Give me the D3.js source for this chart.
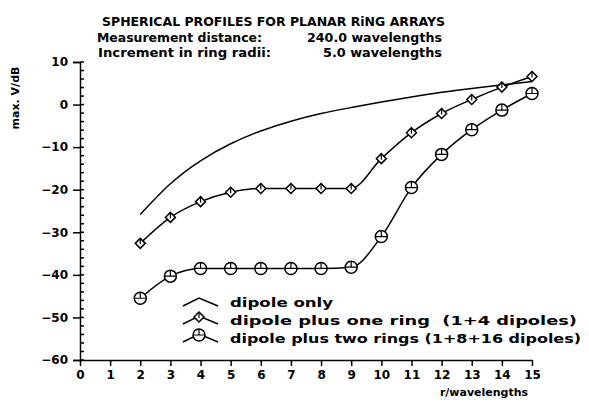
<!DOCTYPE html>
<html>
<head>
<meta charset="utf-8">
<script src="https://cdn.jsdelivr.net/npm/d3@7"></script>
<style>
  body { margin: 0; background: #fff; }
  text { font-family: "DejaVu Sans", sans-serif; font-weight: bold; fill: #000; }
</style>
</head>
<body>
<div id="chart"></div>
<script>
// values
var radii = [2, 3, 4, 5, 6, 7, 8, 9, 10, 11, 12, 13, 14, 15];
var dipoleOnly = [-25.8, -18.6, -13.2, -9.2, -6.2, -3.9, -2.1, -0.7, 0.6, 1.8, 2.9, 3.8, 4.6, 5.4];
var oneRing = [-32.6, -26.5, -22.8, -20.6, -19.7, -19.7, -19.7, -19.7, -12.7, -6.6, -2.1, 1.2, 4.1, 6.6];
var twoRings = [-45.5, -40.3, -38.5, -38.5, -38.5, -38.5, -38.5, -38.2, -31.0, -19.5, -11.7, -5.9, -1.3, 2.6];

var xTicks = d3.range(0, 16);
var yTicks = [10, 0, -10, -20, -30, -40, -50, -60];
var yMinor = d3.range(-60, 11, 2);

var titleLines = ["SPHERICAL PROFILES FOR PLANAR RiNG ARRAYS"];
var infoLabels = ["Measurement distance:", "Increment in ring radii:"];
var infoValues = ["240.0 wavelengths", "5.0 wavelengths"];
var legendLabels = ["dipole only", "dipole plus one ring  (1+4 dipoles)", "dipole plus two rings (1+8+16 dipoles)"];

var width = 589, height = 404;

var svg = d3.select("#chart").append("svg")
    .attr("width", width)
    .attr("height", height)

var x = d3.scaleLinear().domain([0, 15]).range([80, 532]);
var y = d3.scaleLinear().domain([-60, 10]).range([360, 62]);

// titles
svg.append("text")
    .attr("x", 102).attr("y", 26)
    .attr("textLength", 343).attr("lengthAdjust", "spacingAndGlyphs")
    .style("font-size", "13px")
    .text(titleLines[0])

var infoPos = [{lx: 97, lw: 165, vx: 307, vw: 135, y: 42}, {lx: 98, lw: 173, vx: 323, vw: 119, y: 57}];
infoLabels.forEach(function (t, i) {
    var p = infoPos[i];
    svg.append("text").attr("x", p.lx).attr("y", p.y)
        .attr("textLength", p.lw).attr("lengthAdjust", "spacingAndGlyphs")
        .style("font-size", "13px").text(t)
    svg.append("text").attr("x", p.vx).attr("y", p.y)
        .attr("textLength", p.vw).attr("lengthAdjust", "spacingAndGlyphs")
        .style("font-size", "13px").text(infoValues[i])
})

// y axis
var yAxis = d3.axisLeft(y).tickValues(yTicks).tickSize(7).tickPadding(5);
var gy = svg.append("g")
    .attr("transform", "translate(" + x(0) + ",0)")
    .call(yAxis)
gy.select(".domain").attr("stroke-width", 1.5)
gy.selectAll(".tick line").attr("stroke-width", 1.5)
gy.selectAll(".tick text").style("font-size", "12px").style("font-family", "DejaVu Sans").style("font-weight", "bold")

svg.append("g").selectAll("line")
    .data(yMinor)
    .enter().append("line")
    .attr("x1", x(0)).attr("x2", x(0) + 4)
    .attr("y1", function (d) { return y(d); })
    .attr("y2", function (d) { return y(d); })
    .attr("stroke", "#000").attr("stroke-width", 1.5)

// x axis
var xAxis = d3.axisBottom(x).tickValues(xTicks).tickSize(6).tickPadding(4).tickSizeOuter(0);
var gx = svg.append("g")
    .attr("transform", "translate(0," + y(-60) + ")")
    .call(xAxis)
gx.select(".domain").attr("stroke-width", 1.5)
gx.selectAll(".tick line").attr("stroke-width", 1.5)
gx.selectAll(".tick text").style("font-size", "12px").style("font-family", "DejaVu Sans").style("font-weight", "bold")

// axis titles
svg.append("text")
    .attr("transform", "translate(19,98) rotate(-90)")
    .attr("text-anchor", "middle")
    .style("font-size", "11px")
    .text("max. V/dB")

svg.append("text")
    .attr("x", 484).attr("y", 396)
    .attr("text-anchor", "middle")
    .style("font-size", "11px")
    .text("r/wavelengths")

// curves
var line = d3.line()
    .x(function (d) { return x(d[0]); })
    .y(function (d) { return y(d[1]); })
    .curve(d3.curveMonotoneX)

var smooth = d3.line()
    .x(function (d) { return x(d[0]); })
    .y(function (d) { return y(d[1]); })
    .curve(d3.curveNatural)

function pairs(vals) {
    return radii.map(function (r, i) { return [r, vals[i]]; });
}

svg.append("path")
    .attr("d", smooth(pairs(dipoleOnly)))
    .attr("fill", "none")
    .attr("stroke", "#000")
    .attr("stroke-width", 1.5)

;[oneRing, twoRings].forEach(function (vals) {
    svg.append("path")
        .attr("d", line(pairs(vals)))
        .attr("fill", "none")
        .attr("stroke", "#000")
        .attr("stroke-width", 1.5)
})

function diamond(g, cx, cy) {
    g.append("path")
        .attr("d", "M" + cx + "," + (cy - 5) + "L" + (cx + 5) + "," + cy + "L" + cx + "," + (cy + 5) + "L" + (cx - 5) + "," + cy + "Z")
        .attr("fill", "#fff").attr("stroke", "#000").attr("stroke-width", 1.5)
    g.append("line")
        .attr("x1", cx).attr("x2", cx).attr("y1", cy - 5).attr("y2", cy + 1)
        .attr("stroke", "#000").attr("stroke-width", 1.2)
}

function ringMark(g, cx, cy) {
    g.append("circle")
        .attr("cx", cx).attr("cy", cy).attr("r", 6)
        .attr("fill", "#fff").attr("stroke", "#000").attr("stroke-width", 1.5)
    g.append("path")
        .attr("d", "M" + cx + "," + (cy - 6) + "L" + cx + "," + cy + "M" + (cx - 6) + "," + cy + "L" + (cx + 6) + "," + cy)
        .attr("fill", "none").attr("stroke", "#000").attr("stroke-width", 1.2)
}

var marks = svg.append("g");
pairs(oneRing).forEach(function (d) { diamond(marks, x(d[0]), y(d[1])); })
pairs(twoRings).forEach(function (d) { ringMark(marks, x(d[0]), y(d[1])); })

// legend
var legendY = [303, 321, 339];
var legendW = [103, 347, 351];
legendLabels.forEach(function (t, i) {
    var ly = legendY[i];
    svg.append("path")
        .attr("d", "M183," + (ly + 3) + "L199," + (ly - 5) + "L218," + (ly + 3))
        .attr("fill", "none").attr("stroke", "#000").attr("stroke-width", 1.5)
    if (i == 1) diamond(svg, 199, ly - 4);
    if (i == 2) ringMark(svg, 199, ly - 4);
    svg.append("text")
        .attr("x", 230).attr("y", ly + 4)
        .attr("textLength", legendW[i]).attr("lengthAdjust", "spacingAndGlyphs")
        .attr("xml:space", "preserve")
        .style("white-space", "pre")
        .style("font-size", "12px")
        .text(t)
})
</script>
</body>
</html>
